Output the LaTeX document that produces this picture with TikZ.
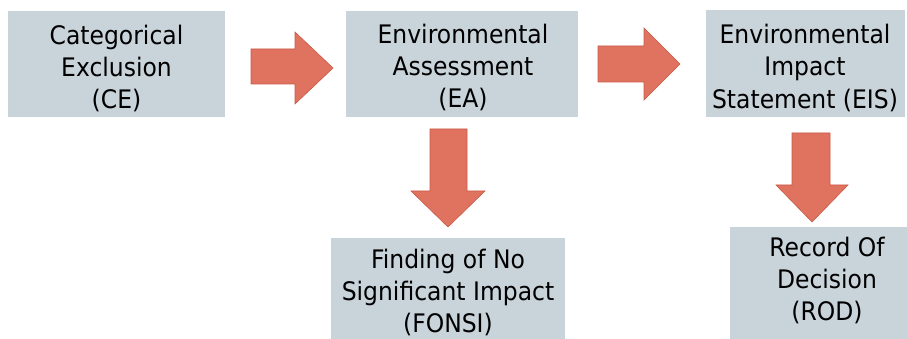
\documentclass[tikz,border=0pt]{standalone}
\usepackage{fontspec}
\setmainfont{DejaVu Sans}[FakeStretch=0.92]
\definecolor{boxfill}{HTML}{C9D3DA}
\definecolor{arrowfill}{HTML}{DF735F}
\definecolor{arrowedge}{HTML}{C85A47}
\begin{document}
\begin{tikzpicture}[x=1pt,y=-1pt,
  stagebox/.style={fill=boxfill, draw=none, inner sep=0pt, outer sep=0pt},
  stagetext/.style={align=center, inner sep=0pt, text=black,
    font=\fontsize{25.5}{32.3}\selectfont},
  blockarrow/.style={fill=arrowfill, draw=arrowedge, line width=0.6pt, line join=miter}]
\useasboundingbox (0,0) rectangle (907,339);
\clip (0,0) rectangle (907,339);

% process stages
\node[stagebox, minimum width=217pt, minimum height=106pt] (ce) at (116.5,64) {};
\node[stagebox, minimum width=232pt, minimum height=106pt] (ea) at (462,64) {};
\node[stagebox, minimum width=199pt, minimum height=107pt] (eis) at (805.5,63.5) {};
\node[stagebox, minimum width=234pt, minimum height=110pt] (fonsi) at (448,293) {};
\node[stagebox, minimum width=192pt, minimum height=118pt] (rod) at (826,286) {};

\node[stagetext] (ce-t) at (116.5,68.5) {Categorical\\Exclusion\\(CE)};
\node[stagetext] (ea-t) at (463,67.5) {Environmental\\Assessment\\(EA)};
\node[stagetext] (eis-t) at (805,67.8) {Environmental\\Impact\\Statement (EIS)};
\node[stagetext] (fonsi-t) at (448,292.3) {Finding of No\\Significant Impact\\(FONSI)};
\node[stagetext] (rod-t) at (827,280.3) {Record Of\\Decision\\(ROD)};

% block arrows between the stages
\draw[blockarrow] (251,49) -- (295,49) -- (295,32) -- (333,68) -- (295,104) -- (295,84) -- (251,84) -- cycle;
\draw[blockarrow] (598,46) -- (644,46) -- (644,28) -- (680,64) -- (644,100) -- (644,82) -- (598,82) -- cycle;
\draw[blockarrow] (430,129) -- (467,129) -- (467,191) -- (485,191) -- (448,227) -- (411,191) -- (430,191) -- cycle;
\draw[blockarrow] (792,133) -- (830,133) -- (830,185) -- (848,185) -- (812,222) -- (776,185) -- (792,185) -- cycle;
\end{tikzpicture}
\end{document}
